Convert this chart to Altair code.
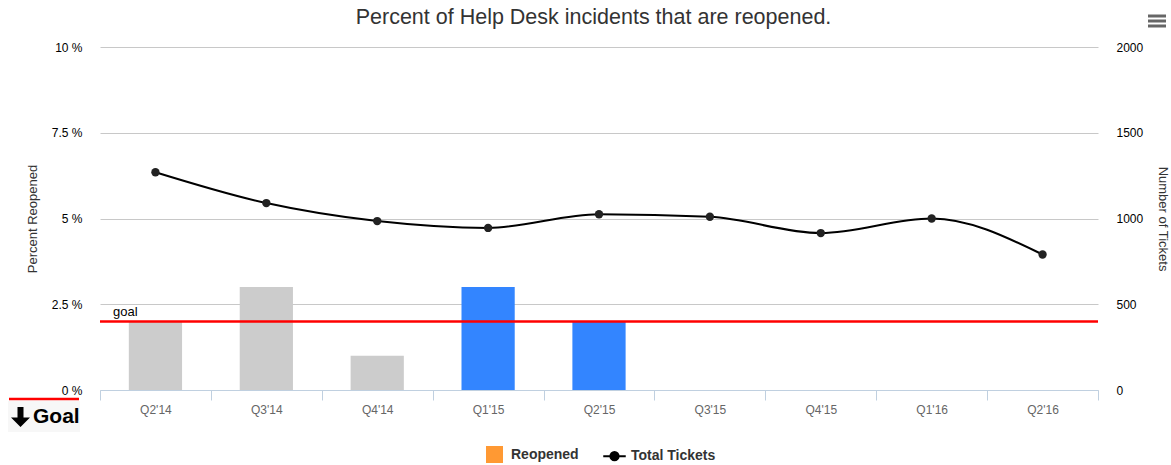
import altair as alt
import pandas as pd

quarters = ["Q2'14", "Q3'14", "Q4'14", "Q1'15", "Q2'15", "Q3'15", "Q4'15", "Q1'16", "Q2'16"]
reopened_pct = [2.0, 3.0, 1.0, 3.0, 2.0, None, None, None, None]
bar_colors = ["#cccccc", "#cccccc", "#cccccc", "#3385ff", "#3385ff", "#cccccc", "#cccccc", "#cccccc", "#cccccc"]
total_tickets = [1270, 1090, 985, 945, 1025, 1010, 915, 1000, 790]
goal_value = [2.0]
legend_series = ["Reopened", "Total Tickets"]
legend_colors = ["#ff9933", "#000000"]
title_text = ["Percent of Help Desk incidents that are reopened."]

FONT = "Liberation Sans"
W, H = 998, 343

df = pd.DataFrame({"quarter": quarters, "pct": reopened_pct, "barColor": bar_colors, "tickets": total_tickets})
goal_df = pd.DataFrame({"goal": goal_value, "label": ["goal"]})
leg_df = pd.DataFrame({"series": legend_series, "y": [None, None]})

xenc = alt.X("quarter:N", sort=quarters, title=None,
             scale=alt.Scale(paddingInner=0, paddingOuter=0),
             axis=alt.Axis(tickBand="extent", labelAngle=0, labelColor="#666666", labelFontSize=12,
                           labelFont=FONT, domainColor="#c0d0e0", tickColor="#c0d0e0", tickSize=10,
                           labelPadding=4, grid=False))

left_scale = alt.Scale(domain=[0, 10], nice=False)
left_axis = alt.Axis(values=[0, 2.5, 5, 7.5, 10], labelExpr="datum.value + ' %'", title="Percent Reopened",
                     labelFont=FONT, labelFontSize=12, labelColor="#000000", labelPadding=18,
                     titleFont=FONT, titleFontSize=13, titleFontWeight="normal", titleColor="#333333",
                     titleX=-68, titleY=H / 2, titleBaseline="middle", titleAngle=270,
                     grid=True, gridColor="#c8c8c8", domain=False, ticks=False)

bars = alt.Chart(df).mark_bar(width=alt.RelativeBandSize(0.48)).encode(
    x=xenc,
    y=alt.Y("pct:Q", scale=left_scale, axis=left_axis),
    fill=alt.Fill("barColor:N", scale=None),
)

goal_rule = alt.Chart(goal_df).mark_rule(color="#ff0000", strokeWidth=2.5).encode(
    y=alt.Y("goal:Q", scale=left_scale, axis=left_axis),
)
goal_text = alt.Chart(goal_df).mark_text(align="left", baseline="bottom", dx=0, dy=-2, font=FONT,
                                         fontSize=13, color="#000000").encode(
    x=alt.value(13),
    y=alt.Y("goal:Q", scale=left_scale, axis=left_axis),
    text="label:N",
)

# Legend-only layer (rows have no y value, so no point is drawn)
legend_layer = alt.Chart(leg_df).mark_point(filled=True, opacity=1).encode(
    y=alt.Y("y:Q", scale=left_scale, axis=left_axis),
    fill=alt.Fill("series:N", scale=alt.Scale(domain=legend_series, range=legend_colors),
                  legend=alt.Legend(title=None, orient="none", legendX=386, legendY=399, direction="horizontal",
                                    labelFont=FONT, labelFontSize=14, labelFontWeight="bold",
                                    labelColor="#333333", symbolSize=225, symbolStrokeWidth=2,
                                    symbolOpacity=1, labelOffset=8, columnPadding=20)),
    stroke=alt.Stroke("series:N", scale=alt.Scale(domain=legend_series, range=legend_colors), legend=None),
    shape=alt.Shape("series:N", scale=alt.Scale(
        domain=legend_series,
        range=["square", "M-1.5,0H-0.55A0.55,0.55 0 1,1 0.55,0H1.5M0.55,0A0.55,0.55 0 1,1 -0.55,0"]),
        legend=None),
)

left_layers = alt.layer(bars, goal_rule, goal_text, legend_layer)

right_scale = alt.Scale(domain=[0, 2000], nice=False)
right_axis = alt.Axis(orient="right", values=[0, 500, 1000, 1500, 2000], format="d", title="Number of Tickets",
                      labelFont=FONT, labelFontSize=12, labelColor="#000000", labelPadding=18,
                      titleFont=FONT, titleFontSize=13, titleFontWeight="normal", titleColor="#333333",
                      titleX=64, titleY=H / 2, titleBaseline="middle", titleAngle=90,
                      grid=False, domain=False, ticks=False)

line = alt.Chart(df).mark_line(color="#000000", strokeWidth=2, interpolate="monotone",
                               point=alt.OverlayMarkDef(filled=True, color="#222222", size=70)).encode(
    x=xenc,
    y=alt.Y("tickets:Q", scale=right_scale, axis=right_axis),
)

title_mark = alt.Chart(pd.DataFrame({"t": title_text})).mark_text(
    align="center", baseline="middle", font=FONT, fontSize=21.5, color="#333333"
).encode(x=alt.value(493.5), y=alt.value(-29), text="t:N")

menu = alt.Chart(pd.DataFrame({"k": [0, 1, 2]})).mark_rule(color="#666666", strokeWidth=3).encode(
    x=alt.value(W + 50), x2=alt.value(W + 68),
    y=alt.Y("k:Q", scale=alt.Scale(domain=[0, 2], range=[-31, -21]), axis=None),
)

goal_bg = alt.Chart(pd.DataFrame({"k": [0]})).mark_rect(color="#f7f7f7").encode(
    x=alt.value(-92), x2=alt.value(-20), y=alt.value(H + 11), y2=alt.value(H + 42)
)

goal_red = alt.Chart(pd.DataFrame({"k": [0]})).mark_rule(color="#ff0000", strokeWidth=2.5).encode(
    x=alt.value(-91), x2=alt.value(-21), y=alt.value(H + 9)
)

goal_arrow = alt.Chart(pd.DataFrame({"k": [0]})).mark_point(
    filled=True, opacity=1, color="#000000",
    shape="M-0.3,-1H0.3V0.05H0.95L0,1L-0.95,0.05H-0.3Z", size=400
).encode(x=alt.value(-79.5), y=alt.value(H + 27))

goal_box = alt.Chart(pd.DataFrame({"t": ["Goal"]})).mark_text(
    align="left", baseline="middle", font=FONT, fontSize=21, fontWeight="bold", color="#000000"
).encode(x=alt.value(-67), y=alt.value(H + 27), text="t:N")

chart = alt.layer(left_layers, line, title_mark, menu, goal_bg, goal_red, goal_arrow, goal_box).resolve_scale(
    y="independent", fill="independent", shape="independent", stroke="independent"
).properties(
    width=W, height=H,
    autosize=alt.AutoSizeParams(type="none"),
    padding={"left": 100, "top": 47, "right": 73, "bottom": 75},
    background="white",
).configure_view(strokeWidth=0)

chart.save("out.html", embed_options={"renderer": "svg", "actions": False})
